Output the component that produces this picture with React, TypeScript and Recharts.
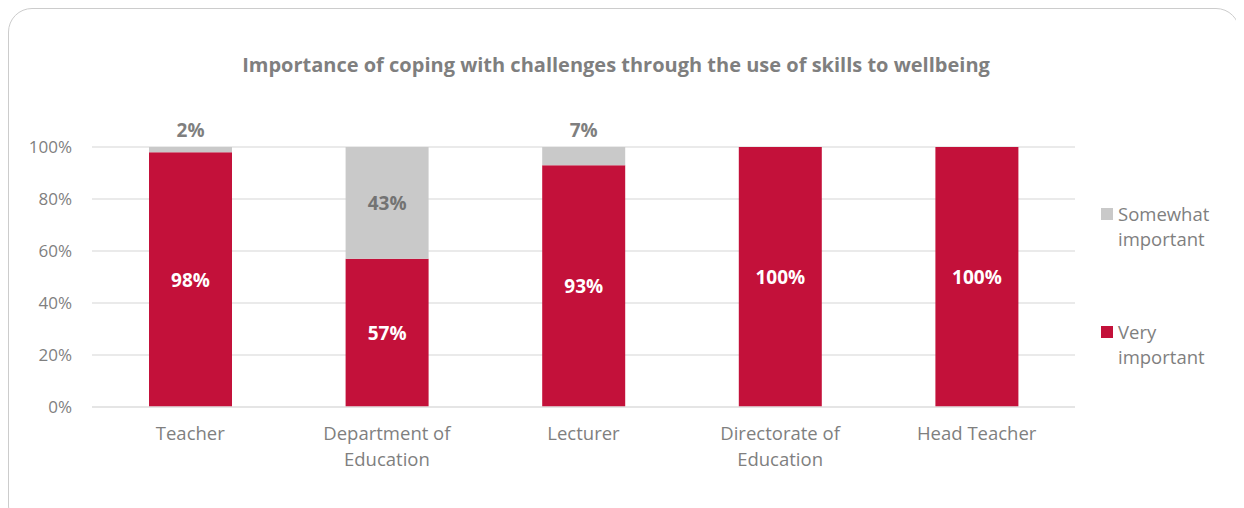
import { BarChart, Bar, XAxis, YAxis, CartesianGrid, LabelList, Text } from 'recharts';

// Share of respondents per role (percent)
const categories = ['Teacher', 'Department of Education', 'Lecturer', 'Directorate of Education', 'Head Teacher'];
const veryImportant = [98, 57, 93, 100, 100];
const somewhatImportant = [2, 43, 7, 0, 0];
const yTicks = [0, 20, 40, 60, 80, 100];

const RED = '#c3113a';
const GREY = '#c9c9c9';
const TEXT = '#7f7f7f';
const FONT = '"Open Sans", Lato, sans-serif';

const data = categories.map((name, i) => ({
  name,
  very: veryImportant[i],
  somewhat: somewhatImportant[i],
}));

const CategoryTick = (props: any) => {
  const { x, y, payload } = props;
  return (
    <Text
      x={x}
      y={y}
      width={160}
      textAnchor="middle"
      verticalAnchor="start"
      lineHeight={26}
      fill={TEXT}
      style={{ fontSize: 18.5, fontFamily: FONT }}
    >
      {payload.value}
    </Text>
  );
};

// small grey segments get their label above the bar, big ones inside
const SomewhatLabel = (props: any) => {
  const { x, y, width, height, value } = props;
  if (!value) return null;
  const small = value < 10;
  return (
    <text
      x={x + width / 2}
      y={small ? y - 10 : y + height / 2}
      textAnchor="middle"
      dominantBaseline={small ? 'auto' : 'central'}
      fill={small ? TEXT : '#737373'}
      fontSize={19}
      fontWeight={700}
      fontFamily={FONT}
    >
      {value}%
    </text>
  );
};

const VeryLabel = (props: any) => {
  const { x, y, width, height, value } = props;
  return (
    <text
      x={x + width / 2}
      y={y + height / 2}
      textAnchor="middle"
      dominantBaseline="central"
      fill="#ffffff"
      fontSize={19}
      fontWeight={700}
      fontFamily={FONT}
    >
      {value}%
    </text>
  );
};

const legendItems = [
  { label: ['Somewhat', 'important'], color: GREY, top: 193 },
  { label: ['Very', 'important'], color: RED, top: 311 },
];

export default function App() {
  return (
    <div style={{ position: 'relative', width: 1232, height: 500, fontFamily: FONT }}>
      <div
        style={{
          position: 'absolute', left: 0, top: 0, width: 1230, height: 520,
          border: '1.5px solid #cccccc', borderRadius: 24,
        }}
      />
      <div
        style={{
          position: 'absolute', left: 0, top: 43, width: 1216, textAlign: 'center',
          color: TEXT, fontSize: 20, fontWeight: 700,
        }}
      >
        Importance of coping with challenges through the use of skills to wellbeing
      </div>
      <div style={{ position: 'absolute', left: 0, top: 0 }}>
        <BarChart
          width={1232}
          height={500}
          data={data}
          margin={{ top: 139, right: 165, left: 24, bottom: 41 }}
          barSize={83}
        >
          <CartesianGrid vertical={false} stroke="#e3e3e3" strokeWidth={1.5} />
          <XAxis
            dataKey="name"
            tick={<CategoryTick />}
            tickLine={false}
            axisLine={{ stroke: '#e3e3e3', strokeWidth: 1.5 }}
            tickMargin={14}
            height={60}
            interval={0}
          />
          <YAxis
            width={60}
            domain={[0, 100]}
            ticks={yTicks}
            tickFormatter={(v) => `${v}%`}
            tickLine={false}
            axisLine={false}
            tickMargin={14}
            tick={{ fill: TEXT, fontSize: 17, fontFamily: FONT }}
          />
          <Bar dataKey="very" stackId="a" fill={RED} isAnimationActive={false}>
            <LabelList dataKey="very" content={<VeryLabel />} />
          </Bar>
          <Bar dataKey="somewhat" stackId="a" fill={GREY} isAnimationActive={false}>
            <LabelList dataKey="somewhat" content={<SomewhatLabel />} />
          </Bar>
        </BarChart>
      </div>
      {legendItems.map((item) => (
        <div key={item.color} style={{ position: 'absolute', left: 1093, top: item.top }}>
          <div style={{ position: 'absolute', left: 0, top: 7, width: 12, height: 12, background: item.color }} />
          <div style={{ position: 'absolute', left: 17, top: 0, color: TEXT, fontSize: 18.5, lineHeight: '25px', whiteSpace: 'nowrap' }}>
            {item.label[0]}
            <br />
            {item.label[1]}
          </div>
        </div>
      ))}
    </div>
  );
}
